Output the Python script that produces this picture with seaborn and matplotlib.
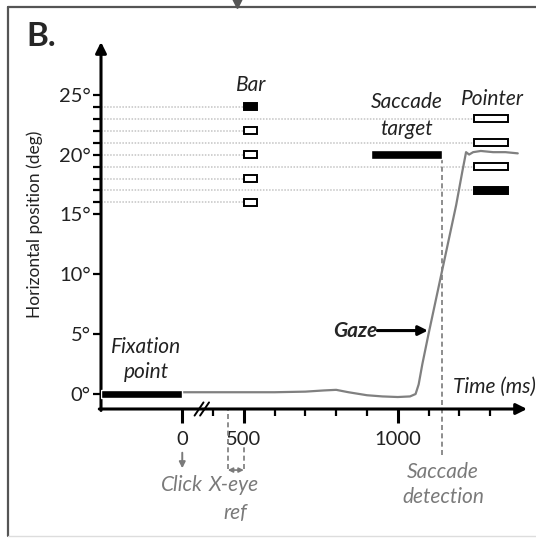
"""
Schematic of a trial timeline: gaze trace, bar / pointer / target positions.
"""
import matplotlib
matplotlib.use("Agg")
import matplotlib.pyplot as plt
from matplotlib.lines import Line2D
import seaborn as sns

# ───────────────────────────── data ───────────────────────────── #
# time axis is broken: label "0" sits at 300 on the drawn scale
gaze_t   = [300, 400, 500, 600, 700, 760, 800, 840, 900, 950, 1000, 1040,
            1058, 1068, 1080, 1100, 1130, 1160, 1190, 1210, 1222, 1232,
            1245, 1270, 1310, 1350, 1390]
gaze_deg = [0.15, 0.15, 0.15, 0.15, 0.2, 0.3, 0.35, 0.15, -0.1, -0.2, -0.25,
            -0.2, 0.0, 0.8, 2.5, 5.0, 8.6, 12.2, 15.8, 18.6, 20.2, 20.0,
            20.2, 20.3, 20.2, 20.2, 20.1]

bar_deg        = [24, 22, 20, 18, 16]
bar_filled     = [True, False, False, False, False]
pointer_deg    = [23, 21, 19, 17]
pointer_filled = [False, False, False, True]

fix_span      = (36, 300)      # fixation point, at 0 deg
target_span   = (912, 1143)    # saccade target, at 20 deg
target_deg    = 20
bar_span      = (500, 542)
pointer_span  = (1248, 1359)
sacc_detect_t = 1143
xeye_ref_t    = (448, 500)

xtick_pos    = [300, 500, 1000]
xtick_labels = ["0", "500", "1000"]
xminor_pos   = [400, 600, 700, 800, 900, 1100, 1200, 1300]
ytick_pos    = [0, 5, 10, 15, 20, 25]
ytick_labels = ["0°", "5°", "10°", "15°", "20°", "25°"]
yminor_pos   = [16, 17, 18, 19, 21, 22, 23, 24]

XLIM = (36, 1420)
YLIM = (-1.25, 29.4)

# ───────────────────────────── style ───────────────────────────── #
sns.set_style("white")
plt.rcParams["font.family"] = ["Lato", "DejaVu Sans"]
GRAY  = "#7a7a7a"
DOT   = "#c4c4c4"
INK   = "#222222"
FS    = 15          # italic annotations
FS_T  = 14.5        # tick labels

fig = plt.figure(figsize=(5.36, 5.38), dpi=100)
W, H = 536, 538
ax = fig.add_axes([101 / W, 129 / H, 426 / W, 367 / H])
ax.set_xlim(*XLIM); ax.set_ylim(*YLIM)
for s in ax.spines.values():
    s.set_visible(False)

# axes with arrow heads
arrow_kw = dict(arrowstyle="-|>", lw=2.2, color="black", mutation_scale=16,
                shrinkA=0, shrinkB=0)
ax.annotate("", xy=(1, 0), xytext=(-0.004, 0), xycoords="axes fraction",
            arrowprops=arrow_kw)
ax.annotate("", xy=(0, 1), xytext=(0, -0.004), xycoords="axes fraction",
            arrowprops=arrow_kw)

# ticks
ax.set_xticks(xtick_pos, xtick_labels)
ax.set_xticks(xminor_pos, minor=True)
ax.set_yticks(ytick_pos, ytick_labels)
ax.set_yticks(yminor_pos, minor=True)
ax.tick_params(axis="x", which="major", direction="out", length=10, width=2.2,
               pad=6, labelsize=FS_T, labelcolor=INK, color="black")
ax.tick_params(axis="x", which="minor", direction="out", length=5, width=1.6,
               color="black")
ax.tick_params(axis="y", which="both", direction="out", length=6, width=1.6,
               pad=1.5, labelsize=FS_T, labelcolor=INK, color="black")
ax.tick_params(bottom=True, left=True, which="both")

# dotted guide lines
ax.hlines(bar_deg, XLIM[0], bar_span[0], colors=DOT, lw=1.1, ls=(0, (1, 1)))
ax.hlines(pointer_deg, XLIM[0], pointer_span[0], colors=DOT, lw=1.1,
          ls=(0, (1, 1)))

# gaze trace
sns.lineplot(x=gaze_t, y=gaze_deg, ax=ax, color="#808080", lw=1.6,
             zorder=3)

# fixation point & saccade target
ax.barh(0, fix_span[1] - fix_span[0], left=fix_span[0], height=0.72,
        color="black", zorder=4)
ax.barh(target_deg, target_span[1] - target_span[0], left=target_span[0],
        height=0.72, color="black", zorder=4)

# bar and pointer markers
ax.barh(bar_deg, bar_span[1] - bar_span[0], left=bar_span[0], height=0.62,
        color=["black" if f else "white" for f in bar_filled],
        edgecolor="black", linewidth=1.4, zorder=4)
ax.barh(pointer_deg, pointer_span[1] - pointer_span[0], left=pointer_span[0],
        height=0.62, color=["black" if f else "white" for f in pointer_filled],
        edgecolor="black", linewidth=1.4, zorder=4)

# axis break
for t0 in (340, 358):
    ax.plot([t0, t0 + 29], [-1.8, -0.7], color="black", lw=1.4,
            clip_on=False, zorder=5)

# saccade detection
ax.vlines(sacc_detect_t, -5.1, target_deg - 0.36, colors=GRAY, lw=1.2,
          ls=(0, (3, 2)), clip_on=False, zorder=2)
ax.text(sacc_detect_t + 4, -6.5, "Saccade", color=GRAY, fontsize=FS,
        style="italic", ha="center", va="center", clip_on=False)
ax.text(sacc_detect_t + 4, -8.6, "detection", color=GRAY, fontsize=FS,
        style="italic", ha="center", va="center", clip_on=False)

# X-eye reference
ax.vlines(xeye_ref_t[0], -6.3, YLIM[0], colors=GRAY, lw=1.2,
          ls=(0, (3, 2)), clip_on=False)
ax.vlines(xeye_ref_t[1], -6.3, -4.4, colors=GRAY, lw=1.2,
          ls=(0, (3, 2)), clip_on=False)
ax.annotate("", xy=(xeye_ref_t[1], -6.35), xytext=(xeye_ref_t[0], -6.35),
            xycoords="data", annotation_clip=False,
            arrowprops=dict(arrowstyle="<|-|>", color=GRAY, lw=1.2,
                            mutation_scale=7, shrinkA=0, shrinkB=0))
ax.text(467, -7.6, "X-eye", color=GRAY, fontsize=FS, style="italic",
        ha="center", va="center", clip_on=False)
ax.text(474, -9.9, "ref", color=GRAY, fontsize=FS, style="italic",
        ha="center", va="center", clip_on=False)

# click
ax.annotate("", xy=(300, -6.2), xytext=(300, -4.9), xycoords="data",
            annotation_clip=False,
            arrowprops=dict(arrowstyle="-|>", color=GRAY, lw=1.4,
                            mutation_scale=9, shrinkA=0, shrinkB=0))
ax.text(300, -7.6, "Click", color=GRAY, fontsize=FS, style="italic",
        ha="center", va="center", clip_on=False)

# labels
ax.text(523, 25.8, "Bar", fontsize=FS, style="italic", ha="center",
        va="center", color=INK)
ax.text(1029, 24.4, "Saccade", fontsize=FS, style="italic", ha="center",
        va="center", color=INK)
ax.text(1029, 22.1, "target", fontsize=FS, style="italic", ha="center",
        va="center", color=INK)
ax.text(1307, 24.6, "Pointer", fontsize=FS, style="italic", ha="center",
        va="center", clip_on=False, color=INK)
ax.text(183, 3.9, "Fixation", fontsize=FS, style="italic", ha="center",
        va="center", color=INK)
ax.text(183, 1.84, "point", fontsize=FS, style="italic", ha="center",
        va="center", color=INK)
ax.text(1178, 0.6, "Time (ms)", fontsize=FS, style="italic", ha="left",
        va="center", clip_on=False, color=INK)
ax.text(932, 5.3, "Gaze", fontsize=FS, style="italic", weight="bold",
        ha="right", va="center")
ax.annotate("", xy=(1098, 5.3), xytext=(934, 5.3), xycoords="data",
            arrowprops=dict(arrowstyle="-|>", color="black", lw=2.2,
                            mutation_scale=14, shrinkA=0, shrinkB=0))

ax.set_ylabel("Horizontal position (deg)", fontsize=12.5, color=INK)
ax.yaxis.set_label_coords(-0.136, 0.504)
ax.set_xlabel("")

# panel letter and frame
fig.text(26 / W, 1 - 36 / H, "B.", fontsize=24, weight="bold", ha="left",
         va="center")
fig.add_artist(Line2D([8 / W, 1], [1 - 7 / H, 1 - 7 / H], color="#555555",
                      lw=1.6, transform=fig.transFigure))
fig.add_artist(Line2D([8 / W, 8 / W], [1 - 7 / H, 2 / H], color="#555555",
                      lw=1.6, transform=fig.transFigure))
fig.add_artist(Line2D([8 / W, 1], [2 / H, 2 / H], color="#dddddd",
                      lw=1.0, transform=fig.transFigure))
fig.add_artist(Line2D([237 / W], [1 - 3 / H], marker="v", markersize=7,
                      color="#555555", transform=fig.transFigure))

fig.savefig("out.png", dpi=100)
